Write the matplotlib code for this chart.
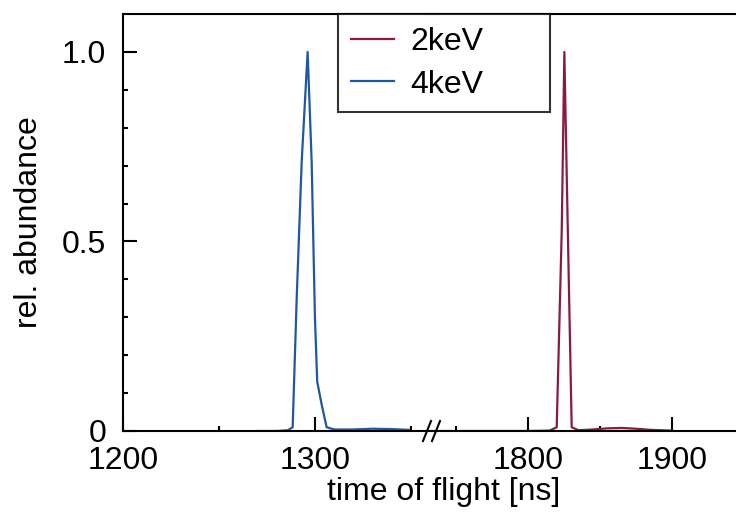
import matplotlib.pyplot as plt
from matplotlib.ticker import MultipleLocator, FixedLocator, FuncFormatter
from matplotlib.lines import Line2D

plt.rcParams['font.family'] = ['Liberation Sans', 'DejaVu Sans']

# 4keV trace (left part of the broken axis)
t4 = [1270, 1280, 1286, 1288.4, 1290.5, 1293.1, 1296.2, 1298.3, 1300.0, 1301.2,
      1303.5, 1306.1, 1310, 1320, 1330, 1340, 1349]
a4 = [0, 0, 0.002, 0.01, 0.35, 0.71, 1.0, 0.71, 0.3, 0.13,
      0.07, 0.01, 0.004, 0.004, 0.006, 0.005, 0.003]

# 2keV trace (right part)
t2 = [1740, 1800, 1815, 1819.9, 1823.4, 1825.2, 1827.6, 1830.3, 1835, 1845,
      1855, 1865, 1875, 1885, 1900]
a2 = [0, 0, 0.001, 0.01, 0.53, 1.0, 0.53, 0.01, 0.002, 0.004,
      0.007, 0.008, 0.006, 0.003, 0.001]

labels = ['2keV', '4keV']
red = '#8b1a42'
blue = '#1f57a3'

fs = 23
lw = 1.5

fig = plt.figure(figsize=(7.36, 5.26), dpi=100)
bot = 1 - 431 / 526
h = (431 - 14) / 526
x0 = 123 / 736
xb = 432 / 736
ax1 = fig.add_axes([x0, bot, xb - x0, h])
ax2 = fig.add_axes([xb, bot, 1.0 - xb, h])

ax1.plot(t4, a4, color=blue, lw=1.6)
ax2.plot(t2, a2, color=red, lw=1.6)

ax1.set_xlim(1200, 1361)
ax2.set_xlim(1733.3, 1944.4)
for ax in (ax1, ax2):
    ax.set_ylim(0, 1.1)
    for s in ax.spines.values():
        s.set_linewidth(lw)
    ax.tick_params(which='major', direction='in', length=10, width=lw,
                   labelsize=fs)
    ax.tick_params(which='minor', direction='in', length=3.5, width=lw)
    ax.tick_params(axis='x', which='major', pad=11)
    ax.xaxis.set_major_locator(MultipleLocator(100))
    ax.xaxis.set_minor_locator(MultipleLocator(50))
    ax.tick_params(axis='x', top=False, which='both')

ax1.spines['right'].set_visible(False)
ax2.spines['left'].set_visible(False)
ax2.spines['right'].set_visible(False)

ax1.yaxis.set_major_locator(FixedLocator([0, 0.5, 1.0]))
ax1.yaxis.set_minor_locator(FixedLocator([0.1, 0.2, 0.3, 0.4, 0.6, 0.7, 0.8, 0.9]))
ax1.yaxis.set_major_formatter(FuncFormatter(lambda v, p: '0' if v == 0 else f'{v:.1f}'))
ax1.tick_params(axis='y', right=False, which='both', pad=12)
ax2.tick_params(axis='y', left=False, right=False, labelleft=False, which='both')

ax1.set_ylabel('rel. abundance', fontsize=fs, labelpad=13)
fig.text(444 / 736, 1 - 492 / 526, 'time of flight [ns]', fontsize=fs,
         ha='center', va='center')

# break marks on the x axis
yb = bot
for dx in (-6, 3):
    fig.add_artist(Line2D([(429 + dx) / 736, (437 + dx) / 736],
                          [yb - 10 / 526, yb + 10 / 526],
                          transform=fig.transFigure, color='black', lw=lw,
                          clip_on=False))

handles = [Line2D([], [], color=red, lw=1.6), Line2D([], [], color=blue, lw=1.6)]
leg = fig.legend(handles, labels, loc='upper left',
                 bbox_to_anchor=(338 / 736, 1 - 112 / 526, (550 - 338) / 736, 98 / 526),
                 mode='expand', fontsize=fs, frameon=True, fancybox=False,
                 borderaxespad=0, borderpad=0.4, labelspacing=0.4,
                 handlelength=1.35, handletextpad=0.5)
leg.get_frame().set_edgecolor('black')
leg.get_frame().set_linewidth(lw)

fig.savefig('out.png', dpi=100)
